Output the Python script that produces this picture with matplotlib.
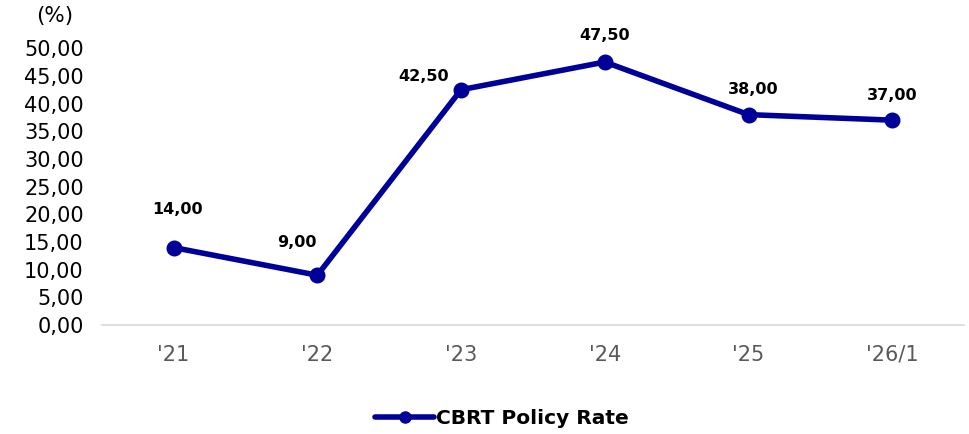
import matplotlib
matplotlib.use("Agg")
import matplotlib.pyplot as plt
from matplotlib.lines import Line2D
from matplotlib.ticker import FuncFormatter

years = ["'21", "'22", "'23", "'24", "'25", "'26/1"]
rates = [14.00, 9.00, 42.50, 47.50, 38.00, 37.00]
series_name = "CBRT Policy Rate"

NAVY = "#000099"

fig = plt.figure(figsize=(9.69, 4.34), dpi=100)
ax = fig.add_axes([0.105, 0.251, 0.89, 0.638])

x = range(len(years))
ax.plot(x, rates, color=NAVY, lw=4, marker="o", ms=10.5,
        solid_joinstyle="round", solid_capstyle="round")

# label offsets in points (dx, dy)
offsets = [(3, 22), (-15, 18), (-27, 4), (0, 14), (3, 13), (0, 12)]
for xi, v, (dx, dy) in zip(x, rates, offsets):
    ax.annotate(f"{v:.2f}".replace(".", ","), (xi, v), xytext=(dx, dy),
                textcoords="offset points", ha="center", va="bottom",
                fontsize=11.5, fontweight="bold", color="black")

ax.set_xlim(-0.5, len(years) - 0.5)
ax.set_ylim(0, 50)
ax.set_yticks(range(0, 51, 5))
ax.yaxis.set_major_formatter(FuncFormatter(lambda v, _: f"{v:.2f}".replace(".", ",")))
ax.set_xticks(list(x))
ax.set_xticklabels(years)
ax.tick_params(axis="y", length=0, labelsize=15, pad=13, colors="black")
ax.tick_params(axis="x", length=0, labelsize=15, pad=14, labelcolor="#595959")
for s in ["top", "right", "left"]:
    ax.spines[s].set_visible(False)
ax.spines["bottom"].set_color("#d9d9d9")
ax.spines["bottom"].set_linewidth(1.2)

fig.text(0.056, 0.962, "(%)", ha="center", va="center", fontsize=15.5)

handle = Line2D([], [], color=NAVY, lw=4, marker="o", ms=8,
                solid_capstyle="round")
fig.legend([handle], [series_name], loc="center",
           bbox_to_anchor=(0.518, 0.035), frameon=False,
           prop={"size": 14.5, "weight": "bold"}, handlelength=2.9,
           handletextpad=0.1)

fig.savefig("out.png", dpi=100)
